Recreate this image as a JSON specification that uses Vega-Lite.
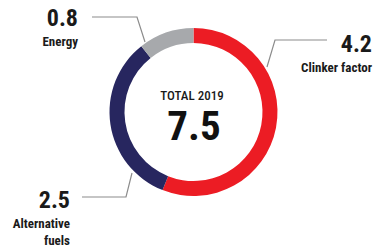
{
  "$schema": "https://vega.github.io/schema/vega-lite/v6.json",
  "width": 374,
  "height": 252,
  "autosize": {"type": "fit", "contains": "padding"},
  "padding": 0,
  "background": "white",
  "config": {"view": {"stroke": null}, "text": {"font": "Roboto Condensed, Roboto, sans-serif"}},
  "datasets": {
    "shares": [
      {"category": "Clinker factor", "value": 4.2, "rank": 1},
      {"category": "Alternative fuels", "value": 2.5, "rank": 2},
      {"category": "Energy", "value": 0.8, "rank": 3}
    ],
    "callouts": [
      {"category": "Energy", "value": 0.8, "name": ["Energy"], "x": 78, "y": 26},
      {"category": "Clinker factor", "value": 4.2, "name": ["Clinker factor"], "x": 372, "y": 52},
      {"category": "Alternative fuels", "value": 2.5, "name": ["Alternative", "fuels"], "x": 70, "y": 208}
    ],
    "leaders": [
      {"leader": "Energy", "i": 1, "x": 92, "y": 17},
      {"leader": "Energy", "i": 2, "x": 137, "y": 17},
      {"leader": "Energy", "i": 3, "x": 145, "y": 42},
      {"leader": "Clinker factor", "i": 1, "x": 327, "y": 40},
      {"leader": "Clinker factor", "i": 2, "x": 275, "y": 40},
      {"leader": "Clinker factor", "i": 3, "x": 267, "y": 67},
      {"leader": "Alternative fuels", "i": 1, "x": 82, "y": 197},
      {"leader": "Alternative fuels", "i": 2, "x": 126, "y": 197},
      {"leader": "Alternative fuels", "i": 3, "x": 132, "y": 173}
    ]
  },
  "layer": [
    {
      "data": {"name": "shares"},
      "mark": {"type": "arc", "outerRadius": 84, "innerRadius": 69},
      "encoding": {
        "theta": {"field": "value", "type": "quantitative", "stack": true},
        "order": {"field": "rank", "type": "quantitative"},
        "color": {
          "field": "category",
          "type": "nominal",
          "scale": {"domain": ["Clinker factor", "Alternative fuels", "Energy"], "range": ["#ec1c24", "#27265f", "#a7a9ac"]},
          "legend": null
        },
        "x": {"datum": 193.5, "type": "quantitative", "scale": {"domain": [0, 374], "nice": false, "zero": false}, "axis": null},
        "y": {"datum": 112, "type": "quantitative", "scale": {"domain": [252, 0], "nice": false, "zero": false}, "axis": null}
      }
    },
    {
      "data": {"name": "leaders"},
      "mark": {"type": "line", "stroke": "#8c8c8c", "strokeWidth": 1.2},
      "encoding": {
        "x": {"field": "x", "type": "quantitative"},
        "y": {"field": "y", "type": "quantitative"},
        "detail": {"field": "leader"},
        "order": {"field": "i", "type": "quantitative"}
      }
    },
    {
      "data": {"name": "callouts"},
      "mark": {"type": "text", "align": "right", "baseline": "alphabetic", "fontSize": 24, "fontWeight": "bold", "color": "#1a1a1a"},
      "encoding": {
        "x": {"field": "x", "type": "quantitative"},
        "y": {"field": "y", "type": "quantitative"},
        "text": {"field": "value", "type": "quantitative", "format": ".1f"}
      }
    },
    {
      "data": {"name": "callouts"},
      "mark": {"type": "text", "align": "right", "baseline": "alphabetic", "fontSize": 13, "fontWeight": "bold", "color": "#1a1a1a", "dy": 20, "lineHeight": 17},
      "encoding": {
        "x": {"field": "x", "type": "quantitative"},
        "y": {"field": "y", "type": "quantitative"},
        "text": {"field": "name"}
      }
    },
    {
      "data": {"values": [{"title": "TOTAL 2019"}]},
      "mark": {"type": "text", "align": "center", "baseline": "alphabetic", "fontSize": 13, "fontWeight": 500, "color": "#1a1a1a"},
      "encoding": {
        "x": {"datum": 192},
        "y": {"datum": 100},
        "text": {"field": "title"}
      }
    },
    {
      "data": {"name": "shares"},
      "transform": [{"aggregate": [{"op": "sum", "field": "value", "as": "total"}]}],
      "mark": {"type": "text", "align": "center", "baseline": "alphabetic", "fontSize": 41, "fontWeight": "bold", "color": "#111111"},
      "encoding": {
        "x": {"datum": 194},
        "y": {"datum": 140},
        "text": {"field": "total", "type": "quantitative", "format": ".1f"}
      }
    }
  ]
}
